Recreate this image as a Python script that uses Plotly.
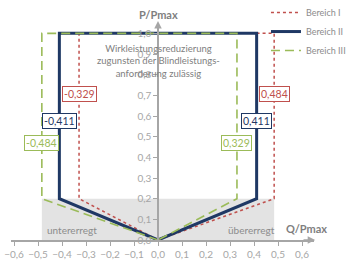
import plotly.graph_objects as go

# ---- data ----
bereiche = ["Bereich I", "Bereich II", "Bereich III"]
q_left = [-0.329, -0.411, -0.484]   # untererregt limit
q_right = [0.484, 0.411, 0.329]     # übererregt limit
p_knee = 0.2
p_max = 1.0
x_ticks = [-0.6, -0.5, -0.4, -0.3, -0.2, -0.1, 0.0, 0.1, 0.2, 0.3, 0.4, 0.5, 0.6]
y_ticks = [0.0, 0.1, 0.2, 0.3, 0.4, 0.5, 0.6, 0.7, 0.8, 0.9, 1.0]

# ---- styles ----
colors = ["#c0504d", "#1f3864", "#9bbb59"]
dashes = ["dot", "solid", "9px,5px"]
widths = [1.5, 3, 1.6]
label_y = [0.705, 0.575, 0.47]
FONT = "Lato, Open Sans, sans-serif"
GREY = "#a6a6a6"

XR = [-0.6125, 0.65]
YR = [0, 1.05]
x0_paper = (0 - XR[0]) / (XR[1] - XR[0])

fig = go.Figure()

# shaded region
fig.add_shape(type="rect", xref="x", yref="y", x0=min(q_left), x1=max(q_right),
              y0=0, y1=p_knee, fillcolor="#e3e3e3", line_width=0, layer="below")

for name, ql, qr, c, d, w in zip(bereiche, q_left, q_right, colors, dashes, widths):
    fig.add_trace(go.Scatter(
        x=[0, ql, ql, qr, qr, 0],
        y=[0, p_knee, p_max, p_max, p_knee, 0],
        mode="lines", name=name,
        line=dict(color=c, dash=d, width=w),
    ))

def fmt(v):
    return f"{v:.3f}".replace(".", ",")

for ql, qr, c, ly in zip(q_left, q_right, colors, label_y):
    for q in (ql, qr):
        fig.add_annotation(x=q, y=ly, xref="x", yref="y", text=fmt(q), showarrow=False,
                           font=dict(family=FONT, size=10.5, color=c),
                           bgcolor="white", bordercolor=c, borderwidth=1, borderpad=1)

fig.add_annotation(x=0, y=0.865, xref="x", yref="y",
                   text="Wirkleistungsreduzierung<br>zugunsten der Blindleistungs-<br>anforderung zulässig",
                   showarrow=False, font=dict(family=FONT, size=9.5, color="#808080"))
fig.add_annotation(x=-0.36, y=0.05, xref="x", yref="y", text="untererregt", showarrow=False,
                   font=dict(family=FONT, size=10, color="#8c8c8c"))
fig.add_annotation(x=0.39, y=0.05, xref="x", yref="y", text="übererregt", showarrow=False,
                   font=dict(family=FONT, size=10, color="#8c8c8c"))

# axis titles
fig.add_annotation(x=x0_paper, y=1.13 / YR[1], xref="paper", yref="paper", text="<b>P/Pmax</b>",
                   showarrow=False, font=dict(family=FONT, size=11, color="#7f7f7f"))
fig.add_annotation(x=0.617, y=0.055, xref="x", yref="y", text="<b>Q/Pmax</b>", showarrow=False,
                   font=dict(family=FONT, size=11, color="#7f7f7f"))

# arrow heads
fig.add_annotation(x=0, y=1.06, ax=0, ay=1.0, xref="x", yref="y", axref="x", ayref="y",
                   showarrow=True, arrowhead=2, arrowsize=1, arrowwidth=1.5, arrowcolor=GREY, text="")
fig.add_annotation(x=0.655, y=0, ax=0.6, ay=0, xref="x", yref="y", axref="x", ayref="y",
                   showarrow=True, arrowhead=2, arrowsize=1, arrowwidth=1.5, arrowcolor=GREY, text="")

fig.update_layout(
    width=350, height=276,
    margin=dict(l=11, r=36, t=23, b=36, autoexpand=False),
    paper_bgcolor="white", plot_bgcolor="white",
    separators=",.",
    font=dict(family=FONT, color=GREY, size=10),
    legend=dict(x=1.122, y=1.115,
                xanchor="right", yanchor="top",
                font=dict(family=FONT, size=9, color="#8c8c8c"),
                bgcolor="rgba(0,0,0,0)", itemwidth=30, tracegroupgap=0),
    xaxis=dict(range=XR, tickvals=x_ticks, tickformat=".1f", showgrid=False, zeroline=False,
               showline=True, linecolor=GREY, linewidth=1.5, ticks="outside", ticklen=4,
               tickcolor=GREY, tickfont=dict(size=10, color=GREY), tickangle=0,
               automargin=False, domain=[0, 1]),
    yaxis=dict(range=YR, tickvals=y_ticks, tickformat=".1f", showgrid=False, zeroline=False,
               showline=True, linecolor=GREY, linewidth=1.5, ticks="outside", ticklen=4,
               tickcolor=GREY, tickfont=dict(size=10, color=GREY), automargin=False,
               anchor="free", position=x0_paper),
)

fig.write_html("out.html")
